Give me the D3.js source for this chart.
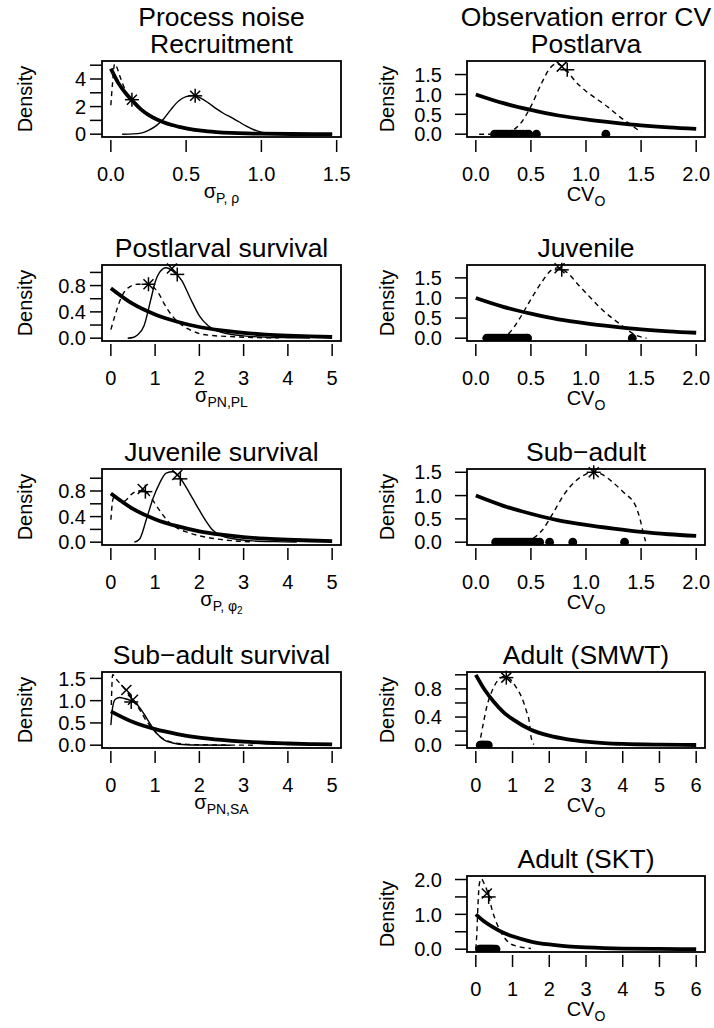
<!DOCTYPE html>
<html>
<head>
<meta charset="utf-8">
<script src="https://cdn.jsdelivr.net/npm/d3@7"></script>
<style>
  body { margin: 0; background: #fff; }
  svg { display: block; }
  text { font-family: "Liberation Sans", Arial, Helvetica, sans-serif; fill: #000; }
</style>
</head>
<body>
<div id="chart"></div>
<script>
// ---- data ----
// shared priors (thick lines)
const survPrior = [[0,0.76],[0.5,0.52],[1,0.36],[1.5,0.25],[2,0.17],[2.5,0.118],[3,0.08],[3.5,0.055],[4,0.038],[4.5,0.026],[5,0.018]];
const cvPrior = [[0,1.0],[0.25,0.78],[0.5,0.61],[0.75,0.47],[1,0.37],[1.25,0.29],[1.5,0.22],[1.75,0.17],[2,0.135]];
const cvPriorWide = [[0,1.0],[0.25,0.78],[0.5,0.61],[0.75,0.47],[1,0.37],[1.5,0.22],[2,0.135],[2.5,0.082],[3,0.05],[3.5,0.03],[4,0.018],[5,0.007],[6,0.0025]];

// Process noise - recruitment
const recPrior = [[0,4.75],[0.05,3.7],[0.1,2.95],[0.15,2.35],[0.2,1.8],[0.25,1.4],[0.3,1.1],[0.35,0.87],[0.4,0.68],[0.5,0.42],[0.6,0.25],[0.7,0.15],[0.8,0.09],[0.9,0.055],[1,0.035],[1.2,0.012],[1.47,0.003]];
const recPost = [[0.075,0],[0.15,0.02],[0.2,0.08],[0.25,0.28],[0.3,0.6],[0.35,1.1],[0.4,1.8],[0.45,2.4],[0.5,2.72],[0.55,2.8],[0.6,2.6],[0.65,2.25],[0.7,1.85],[0.75,1.5],[0.8,1.22],[0.85,0.9],[0.9,0.58],[0.95,0.32],[1,0.15],[1.1,0.04],[1.2,0.01],[1.47,0]];
const recDash = [[0,2.1],[0.012,3.8],[0.025,5.1],[0.04,4.85],[0.06,4.2],[0.1,3.1],[0.15,2.3],[0.2,1.75],[0.3,1.05],[0.4,0.62],[0.5,0.36],[0.7,0.12],[0.9,0.04],[1.2,0.01],[1.47,0]];
const recMarks = [["+",0.14,2.5],["x",0.14,2.5],["*",0.56,2.78]];

// Observation error CV - postlarva
const plDash = [[0.03,0],[0.2,0],[0.3,0.05],[0.4,0.25],[0.5,0.7],[0.6,1.3],[0.67,1.65],[0.73,1.77],[0.8,1.68],[0.9,1.34],[1,1.08],[1.1,0.88],[1.2,0.68],[1.3,0.45],[1.4,0.25],[1.5,0.05]];
const plPoints = [0.17,0.19,0.21,0.23,0.25,0.27,0.29,0.31,0.33,0.35,0.37,0.4,0.43,0.46,0.48,0.55,1.18];
const plMarks = [["x",0.78,1.7],["+",0.83,1.62]];

// Postlarval survival
const plsPost = [[0.38,0],[0.5,0.01],[0.6,0.05],[0.75,0.19],[0.9,0.58],[1,0.85],[1.1,1.0],[1.25,1.07],[1.4,1.02],[1.6,0.88],[1.8,0.6],[2,0.34],[2.2,0.19],[2.4,0.11],[2.7,0.06],[3,0.035],[3.5,0.015],[4,0.007],[4.5,0.003]];
const plsDash = [[0,0.13],[0.1,0.36],[0.2,0.56],[0.3,0.7],[0.45,0.79],[0.6,0.82],[0.85,0.82],[1,0.75],[1.1,0.66],[1.2,0.53],[1.3,0.42],[1.45,0.29],[1.6,0.2],[1.75,0.14],[2,0.07],[2.3,0.04],[2.7,0.025],[3.2,0.01],[3.8,0.004]];
const plsMarks = [["*",0.85,0.82],["x",1.38,1.06],["+",1.5,0.97]];

// Juvenile CV
const juvDash = [[0.06,0],[0.2,0],[0.3,0.12],[0.4,0.5],[0.5,0.97],[0.6,1.4],[0.68,1.68],[0.75,1.75],[0.82,1.65],[0.94,1.3],[1.05,0.98],[1.15,0.7],[1.3,0.37],[1.45,0.08],[1.55,0]];
const juvPoints = [0.1,0.12,0.14,0.16,0.18,0.2,0.22,0.24,0.26,0.28,0.3,0.32,0.34,0.36,0.38,0.4,0.42,0.44,0.46,0.47,1.42];
const juvMarks = [["x",0.76,1.74],["+",0.78,1.7]];

// Juvenile survival
const jsPost = [[0.53,0],[0.65,0.05],[0.8,0.35],[0.95,0.68],[1.1,0.92],[1.25,1.08],[1.4,1.1],[1.55,1.02],[1.7,0.86],[1.85,0.68],[2,0.5],[2.15,0.33],[2.3,0.19],[2.5,0.1],[2.8,0.05],[3.2,0.02],[3.7,0.008],[4.2,0.003]];
const jsDash = [[0,0.35],[0.05,0.68],[0.1,0.72],[0.2,0.64],[0.3,0.64],[0.45,0.74],[0.6,0.8],[0.75,0.81],[0.9,0.7],[1,0.6],[1.15,0.45],[1.3,0.32],[1.5,0.22],[1.75,0.15],[2,0.1],[2.4,0.05],[2.8,0.02],[3.2,0.005]];
const jsMarks = [["x",0.72,0.83],["+",0.78,0.79],["x",1.5,1.05],["+",1.57,0.99]];

// Sub-adult CV
const saDash = [[0.2,0],[0.4,0.01],[0.5,0.06],[0.6,0.25],[0.7,0.62],[0.8,1.02],[0.9,1.3],[1,1.46],[1.08,1.51],[1.15,1.45],[1.25,1.27],[1.35,1.05],[1.45,0.78],[1.49,0.5],[1.52,0.2],[1.54,0.02]];
const saPoints = [0.18,0.2,0.22,0.24,0.26,0.28,0.3,0.32,0.34,0.36,0.38,0.4,0.42,0.44,0.46,0.48,0.5,0.52,0.55,0.58,0.67,0.88,1.35];
const saMarks = [["*",1.07,1.5]];

// Sub-adult survival
const sasPost = [[0,0.45],[0.04,0.85],[0.1,1.03],[0.2,1.07],[0.3,1.05],[0.45,1.0],[0.6,0.9],[0.75,0.7],[0.9,0.46],[1.05,0.25],[1.2,0.12],[1.4,0.05],[1.7,0.01],[2,0.003],[2.7,0]];
const sasDash = [[0.01,0.9],[0.04,1.58],[0.15,1.45],[0.35,1.22],[0.5,1.02],[0.65,0.8],[0.8,0.55],[0.95,0.36],[1.1,0.2],[1.3,0.09],[1.6,0.03],[2,0.01],[2.6,0.003],[3.3,0]];
const sasMarks = [["x",0.35,1.24],["+",0.46,0.97],["x",0.5,1.02]];

// Adult (SMWT)
const smDash = [[0.02,0],[0.1,0.05],[0.2,0.3],[0.3,0.55],[0.45,0.78],[0.6,0.92],[0.8,0.98],[0.95,0.93],[1.1,0.82],[1.25,0.68],[1.38,0.48],[1.45,0.35],[1.5,0.13],[1.58,0.01]];
const smPoints = [0.12,0.15,0.18,0.2,0.22,0.25,0.28,0.31,0.34];
const smMarks = [["*",0.83,0.96]];

// Adult (SKT)
const skDash = [[0,0],[0.03,0.5],[0.06,1.3],[0.1,1.9],[0.15,2.02],[0.22,1.9],[0.3,1.7],[0.38,1.4],[0.45,1.1],[0.55,0.8],[0.65,0.55],[0.8,0.3],[0.95,0.15],[1.15,0.08],[1.4,0.03],[1.5,0.02]];
const skPoints = [0.1,0.13,0.16,0.19,0.22,0.25,0.28,0.31,0.34,0.37,0.4,0.43,0.46,0.5,0.55];
const skMarks = [["x",0.3,1.6],["+",0.35,1.5]];

// ticks
const xTicksRec = [0, 0.5, 1, 1.5];
const xTicksCV = [0, 0.5, 1, 1.5, 2];
const xTicksSurv = [0, 1, 2, 3, 4, 5];
const xTicksWide = [0, 1, 2, 3, 4, 5, 6];
const yTicksRec = [0, 1, 2, 3, 4, 5];
const yLabelsRec = ["0", "", "2", "", "4", ""];
const yTicksHalf = [0, 0.5, 1, 1.5];
const yLabelsHalf = ["0.0", "0.5", "1.0", "1.5"];
const yTicksFifth = [0, 0.2, 0.4, 0.6, 0.8, 1.0];
const yLabelsFifth = ["0.0", "", "0.4", "", "0.8", ""];
const yTicksSKT = [0, 0.5, 1, 1.5, 2];
const yLabelsSKT = ["0.0", "", "1.0", "", "2.0"];

// ---- layout ----
const width = 714, height = 1028;
const colX = [[102, 341], [467, 705]];
const rowTop = [61, 265, 469, 672, 876];
const boxH = 76;

const panels = [
  { row: 0, col: 0, title: ["Process noise", "Recruitment"], xdom: [0, 1.47], xTicks: xTicksRec, xFmt: ".1f",
    yTicks: yTicksRec, yLabels: yLabelsRec, xlab: ["σ", "P, ρ"],
    lines: [[recPrior, "thick"], [recPost, "thin"], [recDash, "dash"]], points: [], marks: recMarks },
  { row: 0, col: 1, title: ["Observation error CV", "Postlarva"], xdom: [0, 2], xTicks: xTicksCV, xFmt: ".1f",
    yTicks: yTicksHalf, yLabels: yLabelsHalf, xlab: ["CV", "O"],
    lines: [[cvPrior, "thick"], [plDash, "dash"]], points: plPoints, marks: plMarks },
  { row: 1, col: 0, title: ["Postlarval survival"], xdom: [0, 5], xTicks: xTicksSurv, xFmt: "d",
    yTicks: yTicksFifth, yLabels: yLabelsFifth, xlab: ["σ", "PN,PL"],
    lines: [[survPrior, "thick"], [plsPost, "thin"], [plsDash, "dash"]], points: [], marks: plsMarks },
  { row: 1, col: 1, title: ["Juvenile"], xdom: [0, 2], xTicks: xTicksCV, xFmt: ".1f",
    yTicks: yTicksHalf, yLabels: yLabelsHalf, xlab: ["CV", "O"],
    lines: [[cvPrior, "thick"], [juvDash, "dash"]], points: juvPoints, marks: juvMarks },
  { row: 2, col: 0, title: ["Juvenile survival"], xdom: [0, 5], xTicks: xTicksSurv, xFmt: "d",
    yTicks: yTicksFifth, yLabels: yLabelsFifth, xlab: ["σ", "P, φ", "2"],
    lines: [[survPrior, "thick"], [jsPost, "thin"], [jsDash, "dash"]], points: [], marks: jsMarks },
  { row: 2, col: 1, title: ["Sub\u2212adult"], xdom: [0, 2], xTicks: xTicksCV, xFmt: ".1f",
    yTicks: yTicksHalf, yLabels: yLabelsHalf, xlab: ["CV", "O"],
    lines: [[cvPrior, "thick"], [saDash, "dash"]], points: saPoints, marks: saMarks },
  { row: 3, col: 0, title: ["Sub\u2212adult survival"], xdom: [0, 5], xTicks: xTicksSurv, xFmt: "d",
    yTicks: yTicksHalf, yLabels: yLabelsHalf, xlab: ["σ", "PN,SA"],
    lines: [[survPrior, "thick"], [sasPost, "thin"], [sasDash, "dash"]], points: [], marks: sasMarks },
  { row: 3, col: 1, title: ["Adult (SMWT)"], xdom: [0, 6], xTicks: xTicksWide, xFmt: "d",
    yTicks: yTicksFifth, yLabels: yLabelsFifth, xlab: ["CV", "O"],
    lines: [[cvPriorWide, "thick"], [smDash, "dash"]], points: smPoints, marks: smMarks },
  { row: 4, col: 1, title: ["Adult (SKT)"], xdom: [0, 6], xTicks: xTicksWide, xFmt: "d",
    yTicks: yTicksSKT, yLabels: yLabelsSKT, xlab: ["CV", "O"],
    lines: [[cvPriorWide, "thick"], [skDash, "dash"]], points: skPoints, marks: skMarks }
];

const svg = d3.select("#chart").append("svg")
  .attr("width", width)
  .attr("height", height);

const lineStyle = {
  thick: { w: 3.8, dash: null },
  thin: { w: 1.4, dash: null },
  dash: { w: 1.4, dash: "5,4" }
};

// R style 4% padding
function pad(dom) {
  const r = dom[1] - dom[0];
  return [dom[0] - 0.04 * r, dom[1] + 0.04 * r];
}

panels.forEach((p, i) => {
  const [x0, x1] = colX[p.col];
  const top = rowTop[p.row], bottom = top + boxH;
  const ymax = d3.max(p.lines.flatMap(l => l[0].map(d => d[1])));
  const x = d3.scaleLinear().domain(pad(p.xdom)).range([x0, x1]);
  const y = d3.scaleLinear().domain(pad([0, ymax])).range([bottom, top]);
  const g = svg.append("g");

  g.append("clipPath").attr("id", "clip" + i)
    .append("rect").attr("x", x0).attr("y", top).attr("width", x1 - x0).attr("height", boxH);

  const plot = g.append("g").attr("clip-path", `url(#clip${i})`);

  const line = d3.line()
    .x(d => x(d[0]))
    .y(d => y(d[1]))
    .curve(d3.curveMonotoneX);

  p.lines.forEach(([data, kind]) => {
    plot.append("path")
      .attr("d", line(data))
      .attr("fill", "none")
      .attr("stroke", "#000")
      .attr("stroke-width", lineStyle[kind].w)
      .attr("stroke-linejoin", "round")
      .attr("stroke-dasharray", lineStyle[kind].dash);
  });

  plot.selectAll("circle.obs")
    .data(p.points)
    .enter()
    .append("circle")
    .attr("class", "obs")
    .attr("cx", d => x(d))
    .attr("cy", y(0))
    .attr("r", 4.4)
    .attr("fill", "#000");

  // markers: + x *
  p.marks.forEach(([type, mx, my]) => {
    const cx = x(mx), cy = y(my);
    const segs = [];
    if (type === "+" || type === "*") {
      segs.push([cx - 7, cy, cx + 7, cy], [cx, cy - 7, cx, cy + 7]);
    }
    if (type === "x" || type === "*") {
      segs.push([cx - 5, cy - 5, cx + 5, cy + 5], [cx - 5, cy + 5, cx + 5, cy - 5]);
    }
    segs.forEach(s => {
      g.append("line")
        .attr("x1", s[0]).attr("y1", s[1]).attr("x2", s[2]).attr("y2", s[3])
        .attr("stroke", "#000").attr("stroke-width", 1.5);
    });
  });

  // box
  g.append("rect")
    .attr("x", x0).attr("y", top)
    .attr("width", x1 - x0).attr("height", boxH)
    .attr("fill", "none").attr("stroke", "#000").attr("stroke-width", 1.8);

  // x axis (ticks only, no axis line)
  const fmt = d3.format(p.xFmt);
  p.xTicks.forEach(t => {
    g.append("line")
      .attr("x1", x(t)).attr("x2", x(t))
      .attr("y1", bottom + 3).attr("y2", bottom + 15)
      .attr("stroke", "#000").attr("stroke-width", 1.5);
    g.append("text")
      .attr("x", x(t)).attr("y", bottom + 44)
      .attr("text-anchor", "middle")
      .attr("font-size", 20)
      .text(fmt(t));
  });

  // y axis
  const labEnd = p.col === 0 ? x0 - 16 : x0 - 25;
  p.yTicks.forEach((t, k) => {
    g.append("line")
      .attr("x1", x0 - 12).attr("x2", x0)
      .attr("y1", y(t)).attr("y2", y(t))
      .attr("stroke", "#000").attr("stroke-width", 1.5);
    if (p.yLabels[k]) {
      g.append("text")
        .attr("x", labEnd).attr("y", y(t))
        .attr("dy", "0.36em")
        .attr("text-anchor", "end")
        .attr("font-size", 20)
        .text(p.yLabels[k]);
    }
  });

  // titles
  const cx = (x0 + x1) / 2;
  p.title.forEach((t, k) => {
    g.append("text")
      .attr("x", cx)
      .attr("y", top - 8 - (p.title.length - 1 - k) * 26.7)
      .attr("text-anchor", "middle")
      .attr("font-size", 26.5)
      .text(t);
  });

  // y label
  const ylx = p.col === 0 ? x0 - 70 : x0 - 73;
  g.append("text")
    .attr("transform", `translate(${ylx},${(top + bottom) / 2}) rotate(-90)`)
    .attr("text-anchor", "middle")
    .attr("font-size", 20)
    .text("Density");

  // x label with subscripts
  const xl = g.append("text")
    .attr("x", cx).attr("y", bottom + (p.xlab[0] === "CV" ? 64 : 61))
    .attr("text-anchor", "middle");
  xl.append("tspan").attr("font-size", 20).text(p.xlab[0]);
  xl.append("tspan").attr("font-size", 14).attr("dy", 5).text(p.xlab[1]);
  if (p.xlab[2]) {
    xl.append("tspan").attr("font-size", 10).attr("dy", 3).text(p.xlab[2]);
  }
});
</script>
</body>
</html>
